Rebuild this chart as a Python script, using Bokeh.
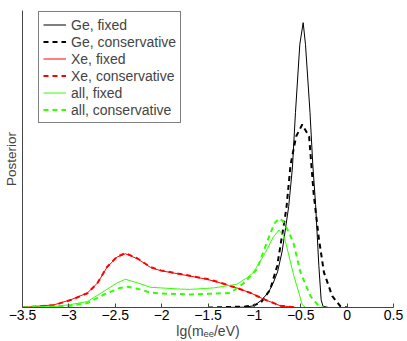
from bokeh.plotting import figure
from bokeh.models import Range1d, FixedTicker, Legend, LegendItem
from bokeh.embed import file_html
from bokeh.resources import INLINE

# ---- data ----
ge_fixed_x = [-1.4, -1.1, -1.0, -0.92, -0.85, -0.8, -0.75, -0.7, -0.68, -0.63, -0.59, -0.557, -0.51,
              -0.474, -0.449, -0.40, -0.37, -0.34, -0.305, -0.28, -0.26, -0.2]
ge_fixed_y = [0, 0.001, 0.006, 0.026, 0.05, 0.08, 0.12, 0.19, 0.233, 0.34, 0.47, 0.656, 0.886,
              0.959, 0.886, 0.656, 0.48, 0.347, 0.141, 0.026, 0.004, 0]

ge_cons_x = [-1.5, -1.1, -1.0, -0.93, -0.83, -0.754, -0.683, -0.654, -0.61, -0.55, -0.484, -0.41,
             -0.36, -0.305, -0.25, -0.16, -0.07, 0.0]
ge_cons_y = [0, 0.003, 0.008, 0.016, 0.06, 0.14, 0.278, 0.336, 0.48, 0.576, 0.616, 0.576,
             0.38, 0.233, 0.118, 0.038, 0.003, 0]

xe_fixed_x = [-3.5, -3.16, -2.98, -2.80, -2.69, -2.59, -2.48, -2.39, -2.26, -2.12, -2.01, -1.80,
              -1.51, -1.37, -1.19, -1.04, -0.90, -0.72, -0.55]
xe_fixed_y = [0, 0.009, 0.026, 0.049, 0.083, 0.135, 0.17, 0.181, 0.164, 0.135, 0.124, 0.112,
              0.095, 0.083, 0.066, 0.049, 0.028, 0.006, 0]

xe_cons_x = [-3.5, -3.16, -2.98, -2.80, -2.69, -2.59, -2.48, -2.39, -2.26, -2.12, -2.01, -1.80,
             -1.51, -1.37, -1.19, -1.04, -0.90, -0.72, -0.55]
xe_cons_y = [0, 0.008, 0.025, 0.048, 0.083, 0.136, 0.171, 0.183, 0.165, 0.136, 0.125, 0.113,
             0.096, 0.084, 0.066, 0.049, 0.028, 0.006, 0]

all_fixed_x = [-3.5, -3.16, -2.98, -2.80, -2.62, -2.48, -2.39, -2.26, -2.12, -2.01, -1.80, -1.69,
               -1.44, -1.19, -1.08, -1.01, -0.90, -0.86, -0.80, -0.736, -0.68, -0.646, -0.575,
               -0.52, -0.485, -0.45]
all_fixed_y = [0, 0.003, 0.01, 0.02, 0.055, 0.083, 0.095, 0.083, 0.068, 0.066, 0.062, 0.061,
               0.066, 0.078, 0.1, 0.118, 0.175, 0.198, 0.235, 0.261, 0.24, 0.198, 0.107,
               0.049, 0.01, 0]

all_cons_x = [-3.5, -3.0, -2.80, -2.62, -2.45, -2.37, -2.26, -2.12, -2.01, -1.69, -1.26, -1.11,
              -0.97, -0.90, -0.84, -0.78, -0.73, -0.69, -0.64, -0.58, -0.503, -0.395, -0.3, -0.25]
all_cons_y = [0, 0.005, 0.015, 0.044, 0.066, 0.07, 0.063, 0.05, 0.047, 0.044, 0.049, 0.083,
              0.13, 0.19, 0.24, 0.285, 0.30, 0.29, 0.26, 0.22, 0.118, 0.038, 0.003, 0]

x_ticks = [-3.5, -3, -2.5, -2, -1.5, -1, -0.5, 0, 0.5]
x_tick_labels = ["\u22123.5", "\u22123", "\u22122.5", "\u22122", "\u22121.5", "\u22121", "\u22120.5", "0", "0.5"]
x_title = "lg(m\u2091\u2091/eV)"
y_title = "Posterior"

FONT = "Liberation Sans"
GREEN = "#33ff00"

p = figure(width=407, height=341, output_backend="svg", toolbar_location=None,
           x_range=Range1d(-3.5, 0.5), y_range=Range1d(0, 1),
           min_border_left=22, min_border_top=10, min_border_right=14, min_border_bottom=0)
p.grid.visible = False
p.outline_line_color = None
p.background_fill_color = "white"
p.border_fill_color = "white"

# axes
p.xaxis.ticker = FixedTicker(ticks=x_ticks)
p.xaxis.major_label_overrides = {t: l for t, l in zip(x_ticks, x_tick_labels)}
p.xaxis.major_tick_in = 4
p.xaxis.major_tick_out = 0
p.xaxis.minor_tick_line_color = None
p.xaxis.major_label_standoff = 2
p.xaxis.major_label_text_font = FONT
p.xaxis.major_label_text_font_size = "14px"
p.xaxis.major_label_text_color = "black"
p.xaxis.axis_line_color = "#444444"
p.xaxis.major_tick_line_color = "#444444"
p.xaxis.axis_label = x_title
p.xaxis.axis_label_text_font = FONT
p.xaxis.axis_label_text_font_size = "14px"
p.xaxis.axis_label_text_font_style = "normal"
p.xaxis.axis_label_standoff = 0

p.yaxis.ticker = FixedTicker(ticks=[])
p.yaxis.minor_tick_line_color = None
p.yaxis.major_tick_in = 0
p.yaxis.major_tick_out = 0
p.yaxis.axis_line_color = "#444444"
p.yaxis.axis_label = y_title
p.yaxis.axis_label_text_font = FONT
p.yaxis.axis_label_text_font_size = "13.5px"
p.yaxis.axis_label_text_font_style = "normal"
p.yaxis.axis_label_standoff = 4

# curves
r1 = p.line(ge_fixed_x, ge_fixed_y, line_color="black", line_width=1)
r2 = p.line(ge_cons_x, ge_cons_y, line_color="black", line_width=2, line_dash="5 4")
r3 = p.line(xe_fixed_x, xe_fixed_y, line_color="#ff0000", line_width=1)
r4 = p.line(xe_cons_x, xe_cons_y, line_color="#ff0000", line_width=2, line_dash="5 4")
r5 = p.line(all_fixed_x, all_fixed_y, line_color=GREEN, line_width=1)
r6 = p.line(all_cons_x, all_cons_y, line_color=GREEN, line_width=2, line_dash="5 4")

legend = Legend(items=[
    LegendItem(label="Ge, fixed", renderers=[r1]),
    LegendItem(label="Ge, conservative", renderers=[r2]),
    LegendItem(label="Xe, fixed", renderers=[r3]),
    LegendItem(label="Xe, conservative", renderers=[r4]),
    LegendItem(label="all, fixed", renderers=[r5]),
    LegendItem(label="all, conservative", renderers=[r6]),
], location=(16, 184))
legend.margin = 0
legend.padding = 4
legend.spacing = 0
legend.label_height = 17
legend.glyph_height = 17
legend.glyph_width = 23
legend.label_standoff = 5
legend.label_text_font = FONT
legend.label_text_font_size = "14px"
legend.border_line_color = "black"
legend.border_line_width = 1
legend.background_fill_alpha = 1
p.add_layout(legend)

open("out.html", "w").write(file_html(p, INLINE))
